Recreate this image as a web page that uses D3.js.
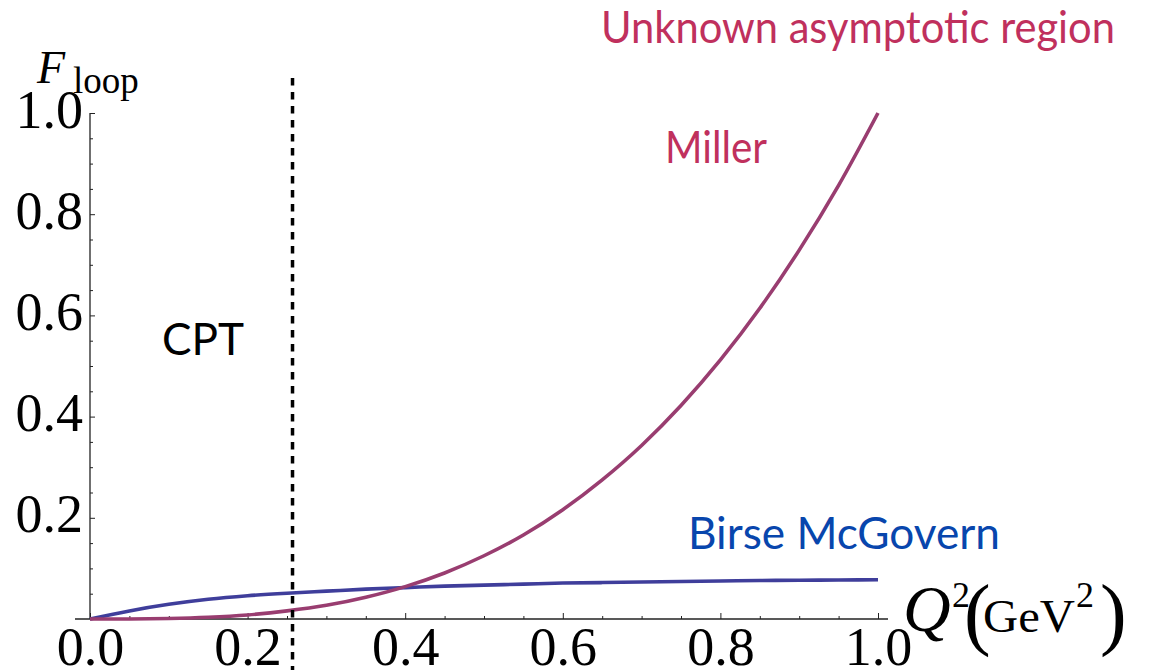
<!DOCTYPE html>
<html>
<head>
<meta charset="utf-8">
<script src="https://cdn.jsdelivr.net/npm/d3@7.9.0/dist/d3.min.js"></script>
<style>
  html, body { margin: 0; padding: 0; background: #fff; }
  svg { display: block; }
</style>
</head>
<body>
<div id="chart"></div>
<script>
// Q^2 grid (GeV^2) and the two curves
const qValues = [0, 0.05, 0.1, 0.15, 0.2, 0.25, 0.3, 0.35, 0.4, 0.45, 0.5,
                 0.55, 0.6, 0.65, 0.7, 0.75, 0.8, 0.85, 0.9, 0.95, 1.0];
const millerValues = [0, 0.0001, 0.001, 0.0034, 0.008, 0.016, 0.027, 0.043, 0.064, 0.091, 0.125,
                      0.166, 0.216, 0.275, 0.343, 0.422, 0.512, 0.614, 0.729, 0.857, 1.0];
const birseValues = [0, 0.016, 0.029, 0.039, 0.046, 0.051, 0.055, 0.059, 0.062, 0.065, 0.067,
                     0.069, 0.071, 0.072, 0.073, 0.074, 0.075, 0.076, 0.0765, 0.077, 0.0775];

// axis ticks
const xMajorTicks = [0, 0.2, 0.4, 0.6, 0.8, 1.0];
const yMajorTicks = [0.2, 0.4, 0.6, 0.8, 1.0];
const minorTicks = [0.05, 0.1, 0.15, 0.25, 0.3, 0.35, 0.45, 0.5, 0.55, 0.65, 0.7, 0.75, 0.85, 0.9, 0.95];
const cptBoundary = 0.257;

const width = 1149;
const height = 670;
const margin = { top: 113, right: 271, bottom: 51, left: 90 };

const svg = d3.select('#chart')
    .append('svg')
    .attr('width', width)
    .attr('height', height);

const xScale = d3.scaleLinear()
    .domain([0, 1])
    .range([margin.left, width - margin.right]);

const yScale = d3.scaleLinear()
    .domain([0, 1])
    .range([height - margin.bottom, margin.top]);

const axisColor = '#222';
const serif = '"Liberation Serif", "DejaVu Serif", serif';
const sans = 'Lato, "Open Sans", sans-serif';

// x axis: major ticks with labels, minor ticks without
const xAxisG = svg.append('g')
    .attr('transform', `translate(0, ${yScale(0)})`)
    .call(d3.axisBottom(xScale)
        .tickValues(xMajorTicks)
        .tickSize(-6)
        .tickSizeOuter(0)
        .tickPadding(8)
        .tickFormat(d3.format('.1f')));
xAxisG.select('.domain').remove();
xAxisG.selectAll('line').attr('stroke', axisColor);
xAxisG.selectAll('text')
    .attr('fill', '#000')
    .style('font-family', serif)
    .style('font-size', '54px');

const xMinorG = svg.append('g')
    .attr('transform', `translate(0, ${yScale(0)})`)
    .call(d3.axisBottom(xScale).tickValues(minorTicks).tickSize(-3).tickFormat(''));
xMinorG.select('.domain').remove();
xMinorG.selectAll('line').attr('stroke', axisColor);

// y axis
const yAxisG = svg.append('g')
    .attr('transform', `translate(${xScale(0)}, 0)`)
    .call(d3.axisLeft(yScale)
        .tickValues(yMajorTicks)
        .tickSize(-5)
        .tickSizeOuter(0)
        .tickPadding(7)
        .tickFormat(d3.format('.1f')));
yAxisG.select('.domain').remove();
yAxisG.selectAll('line').attr('stroke', axisColor);
yAxisG.selectAll('text')
    .attr('dy', '0.26em')
    .attr('fill', '#000')
    .style('font-family', serif)
    .style('font-size', '54px');

const yMinorG = svg.append('g')
    .attr('transform', `translate(${xScale(0)}, 0)`)
    .call(d3.axisLeft(yScale).tickValues(minorTicks).tickSize(-3).tickFormat(''));
yMinorG.select('.domain').remove();
yMinorG.selectAll('line').attr('stroke', axisColor);

// axis lines (x axis padded a little on both sides, like the original)
svg.append('line')
    .attr('x1', xScale(0) - 15).attr('x2', xScale(1) + 10)
    .attr('y1', yScale(0)).attr('y2', yScale(0))
    .attr('stroke', axisColor).attr('stroke-width', 1.3);
svg.append('line')
    .attr('x1', xScale(0)).attr('x2', xScale(0))
    .attr('y1', yScale(0)).attr('y2', yScale(1))
    .attr('stroke', axisColor).attr('stroke-width', 1.3);

// curves
const line = d3.line()
    .x((d, i) => xScale(qValues[i]))
    .y(d => yScale(d))
    .curve(d3.curveMonotoneX);

svg.append('path')
    .datum(birseValues)
    .attr('d', line)
    .attr('fill', 'none')
    .attr('stroke', '#3f3e9b')
    .attr('stroke-width', 3.6);

svg.append('path')
    .datum(millerValues)
    .attr('d', line)
    .attr('fill', 'none')
    .attr('stroke', '#993d70')
    .attr('stroke-width', 3.6);

// CPT boundary
svg.append('line')
    .attr('x1', xScale(cptBoundary)).attr('x2', xScale(cptBoundary))
    .attr('y1', 78).attr('y2', height)
    .attr('stroke', '#000')
    .attr('stroke-width', 3.5)
    .attr('stroke-dasharray', '7.5 6.5');

// labels
const labels = [
    { text: 'Unknown asymptotic region', x: 601, y: 43, len: 514, color: '#c0305d' },
    { text: 'Miller', x: 665, y: 163, len: 102, color: '#c0305d' },
    { text: 'Birse McGovern', x: 688, y: 549, len: 312, color: '#0846ad' },
    { text: 'CPT', x: 162, y: 355, len: 82, color: '#000' }
];
svg.selectAll('text.note')
    .data(labels)
    .join('text')
    .attr('class', 'note')
    .attr('x', d => d.x)
    .attr('y', d => d.y)
    .attr('textLength', d => d.len)
    .attr('lengthAdjust', 'spacingAndGlyphs')
    .attr('fill', d => d.color)
    .style('font-family', sans)
    .style('font-size', '44px')
    .text(d => d.text);

// y axis title F_loop
const yTitle = svg.append('text')
    .style('font-family', serif)
    .attr('fill', '#000');
yTitle.append('tspan')
    .attr('x', 37).attr('y', 83)
    .style('font-style', 'italic')
    .style('font-size', '46px')
    .text('F');
yTitle.append('tspan')
    .attr('x', 73).attr('y', 93)
    .style('font-size', '37px')
    .text('loop');

// x axis title Q^2 (GeV^2)
const qSym = [
    { t: 'Q', x: 903, y: 631, size: 66, italic: true },
    { t: '2', x: 952, y: 607, size: 36 },
    { t: '(', x: 964, y: 640, size: 80 },
    { t: 'GeV', x: 983, y: 632, size: 47, len: 92 },
    { t: '2', x: 1076, y: 607, size: 36 },
    { t: ')', x: 1100, y: 640, size: 80 }
];
svg.selectAll('text.qlabel')
    .data(qSym)
    .join('text')
    .attr('class', 'qlabel')
    .attr('x', d => d.x)
    .attr('y', d => d.y)
    .attr('textLength', d => d.len || null)
    .attr('lengthAdjust', 'spacingAndGlyphs')
    .attr('fill', '#000')
    .style('font-family', serif)
    .style('font-style', d => d.italic ? 'italic' : 'normal')
    .style('font-size', d => d.size + 'px')
    .text(d => d.t);
</script>
</body>
</html>
